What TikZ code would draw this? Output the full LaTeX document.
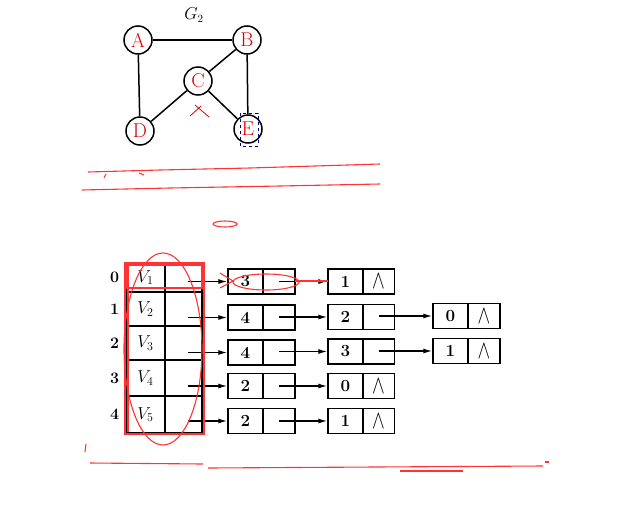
\documentclass[tikz,border=0pt]{standalone}
\usetikzlibrary{arrows.meta}
\usepackage{graphicx}
\begin{document}
\begin{tikzpicture}[x=1pt,y=-1pt,
  vert/.style={circle,draw=black,line width=1.5pt,minimum size=28pt,inner sep=0pt,
    text=red!85!black,font=\fontsize{20}{20}\selectfont},
  edge/.style={line width=1.5pt},
  cell/.style={rectangle,draw=black,line width=1.3pt,inner sep=0pt,font=\fontsize{17}{17}\selectfont},
  hd/.style={cell,minimum width=39pt,minimum height=#1},
  hp/.style={cell,minimum width=37pt,minimum height=#1},
  ld/.style={cell,minimum width=35pt,minimum height=25pt},
  lp/.style={cell,minimum width=32pt,minimum height=25pt},
  arr/.style={line width=1.4pt,-{Latex[length=9pt,width=5pt]}},
  redl/.style={draw=red!80!white,line width=1.1pt},
  idx/.style={font=\fontsize{16}{16}\selectfont\bfseries},
  nil/.style={font=\fontsize{16}{16}\selectfont}
]
\fill[white] (0,0) rectangle (644,530);
\useasboundingbox (0,0) rectangle (644,530);

% ---------- graph G2 ----------
\node[font=\fontsize{16}{16}\selectfont] (g2) at (194,15) {$G_2$};
\node[vert] (A) at (138,40) {A};
\node[vert] (B) at (247,40) {B};
\node[vert] (C) at (198,81) {C};
\node[vert] (D) at (140,131) {D};
\node[vert] (E) at (248,129) {E};
\draw[edge] (A) -- (B);
\draw[edge] (A) -- (D);
\draw[edge] (B) -- (C);
\draw[edge] (B) -- (E);
\draw[edge] (C) -- (D);
\draw[edge] (C) -- (E);
\draw[red!85!black,line width=0.8pt] (195,105) -- (209,117) (190,116) -- (201,106);
\draw[blue!50!black,dashed,line width=0.9pt] (240,113) rectangle (258,146);

% ---------- red strokes ----------
\draw[redl] (88,172) -- (160,170) -- (250,168) -- (380,164);
\draw[redl] (82,190) -- (170,188) -- (280,186) -- (380,184);
\draw[redl] (106,174) -- (104,178);
\draw[redl] (139,173) -- (144,175);
\draw[redl] (225,224) ellipse (12pt and 3pt);

% ---------- head table ----------
\node[hd=29pt] (h0) at (145.5,277.5) {$V_1$};
\node[hp=29pt] (h0p) at (183.5,277.5) {};
\node[hd=34pt] (h1) at (145.5,309) {$V_2$};
\node[hp=34pt] (h1p) at (183.5,309) {};
\node[hd=34pt] (h2) at (145.5,343) {$V_3$};
\node[hp=34pt] (h2p) at (183.5,343) {};
\node[hd=36pt] (h3) at (145.5,378) {$V_4$};
\node[hp=36pt] (h3p) at (183.5,378) {};
\node[hd=37pt] (h4) at (145.5,414.5) {$V_5$};
\node[hp=37pt] (h4p) at (183.5,414.5) {};
\draw[line width=2.2pt] (h4.south west) -- (h4p.south east);

\node[idx,anchor=east] (i0) at (h0.west) {0\,};
\node[idx,anchor=east] (i1) at (h1.west) {1\,};
\node[idx,anchor=east] (i2) at (h2.west) {2\,};
\node[idx,anchor=east] (i3) at (h3.west) {3\,};
\node[idx,anchor=east] (i4) at (h4.west) {4\,};

% ---------- lists ----------
% row 0
\node[ld] (a0) at (245.5,281.5) {\textbf{3}};
\node[lp] (a0p) at (279,281.5) {};
\node[ld] (b0) at (345.5,281.5) {\textbf{1}};
\node[lp,nil] (b0p) at (378.5,281.5) {\scalebox{1.1}[1.5]{$\wedge$}};
% row 1
\node[ld] (a1) at (245.5,317.5) {\textbf{4}};
\node[lp] (a1p) at (279,317.5) {};
\node[ld] (b1) at (345.5,317) {\textbf{2}};
\node[lp] (b1p) at (378.5,317) {};
\node[ld] (c1) at (450.5,316) {\textbf{0}};
\node[lp,nil] (c1p) at (484,316) {\scalebox{1.1}[1.5]{$\wedge$}};
% row 2
\node[ld] (a2) at (245.5,352.5) {\textbf{4}};
\node[lp] (a2p) at (279,352.5) {};
\node[ld] (b2) at (345.5,351.5) {\textbf{3}};
\node[lp] (b2p) at (378.5,351.5) {};
\node[ld] (c2) at (450.5,351) {\textbf{1}};
\node[lp,nil] (c2p) at (484,351) {\scalebox{1.1}[1.5]{$\wedge$}};
% row 3
\node[ld] (a3) at (245.5,386) {\textbf{2}};
\node[lp] (a3p) at (279,386) {};
\node[ld] (b3) at (345.5,386) {\textbf{0}};
\node[lp,nil] (b3p) at (378.5,386) {\scalebox{1.1}[1.5]{$\wedge$}};
% row 4
\node[ld] (a4) at (245.5,421) {\textbf{2}};
\node[lp] (a4p) at (279,421) {};
\node[ld] (b4) at (345.5,421) {\textbf{1}};
\node[lp,nil] (b4p) at (378.5,421) {\scalebox{1.1}[1.5]{$\wedge$}};

% arrows
\foreach \i in {0,...,4}{
  \draw[arr] ([xshift=4pt]h\i p.center |- a\i.west) -- (a\i.west);
  \draw[arr] (a\i p.center |- b\i.west) -- (b\i.west);
}
\draw[arr] (b1p.center |- c1.west) -- (c1.west);
\draw[arr] (b2p.center |- c2.west) -- (c2.west);

% ---------- red annotations on table ----------
\draw[redl,line width=1.6pt] (125,263) rectangle (204,434);
\draw[redl] (128,266) -- (128,432);
\draw[redl,line width=1.4pt] (126,265) rectangle (202,288);
\draw[redl] (163,349) ellipse (39pt and 96pt);
\draw[redl] (266,282) ellipse (33pt and 8pt);
\draw[redl] (295,281) -- (328,281);
\draw[redl] (220,273) -- (233,281) -- (220,288);
\draw[redl] (86,444) -- (85,452);
\draw[redl] (90,463) -- (203,464);
\draw[redl] (208,468) -- (543,466);
\draw[redl] (545,462) -- (549,462);
\draw[redl] (400,471) -- (463,471);
\end{tikzpicture}
\end{document}
